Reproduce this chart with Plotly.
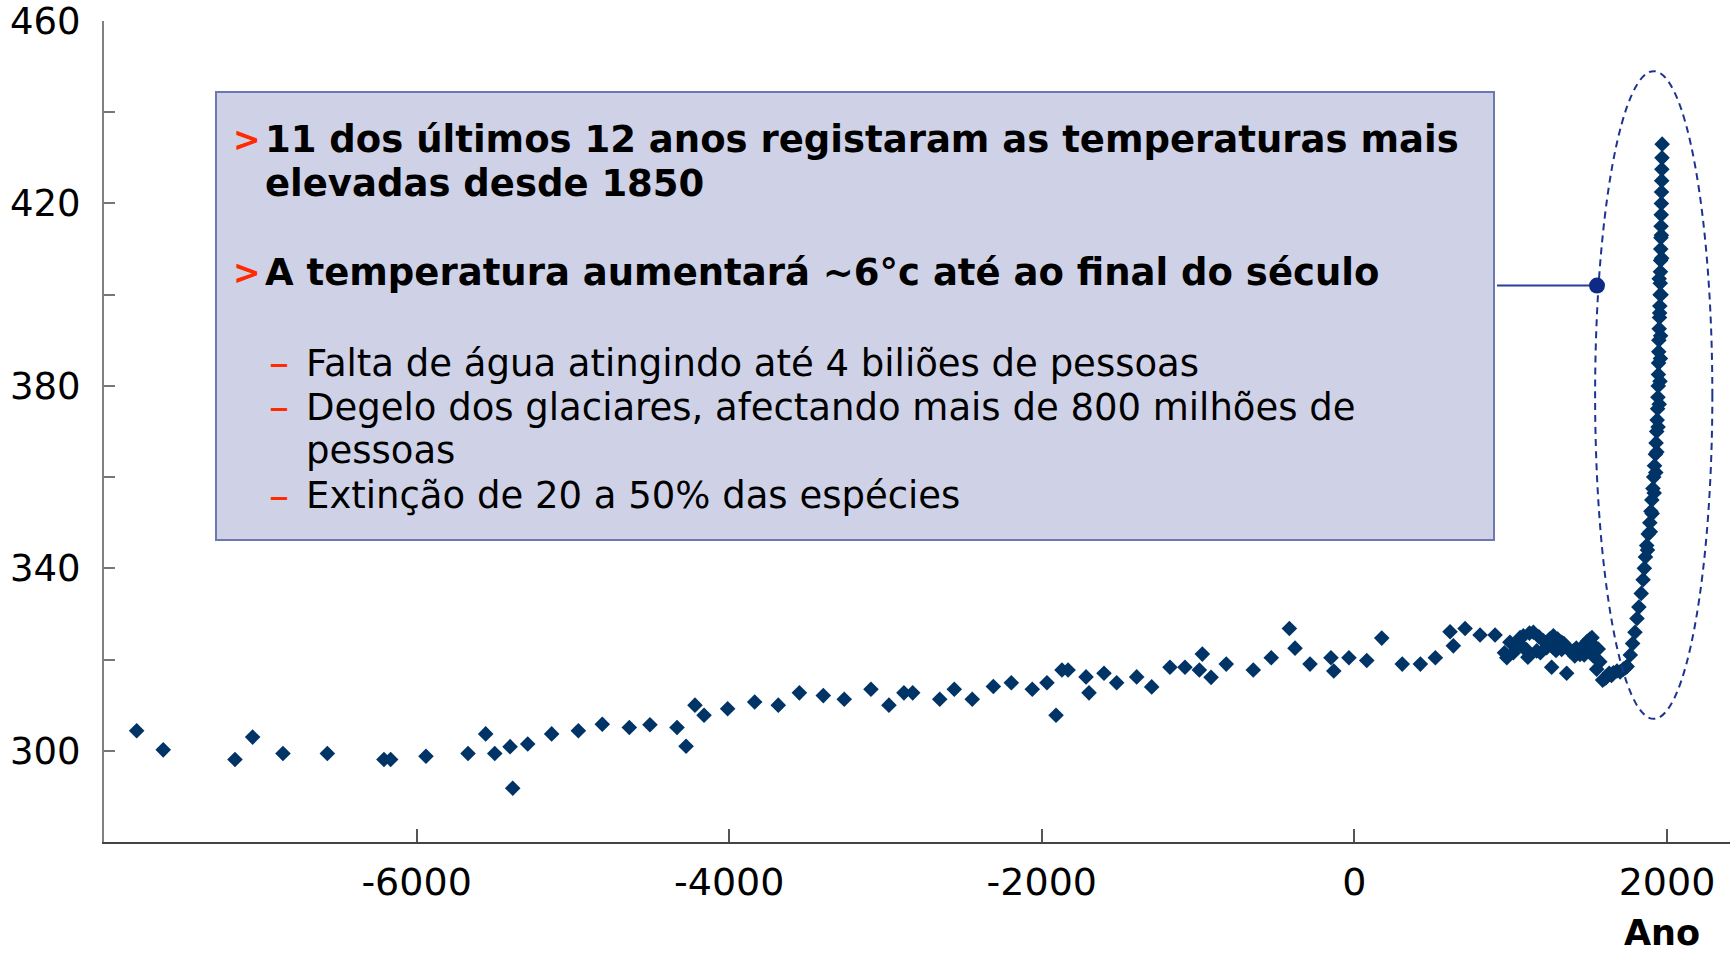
import plotly.graph_objects as go

# ice-core record, scattered samples before ~950 AD
early_year = [-7791, -7621, -7162, -7049, -6855, -6571, -6209, -6166, -5940, -5671,
              -5558, -5500, -5402, -5385, -5289, -5136, -4965, -4812, -4639, -4507,
              -4334, -4276, -4219, -4161, -4010, -3837, -3686, -3551, -3398, -3264,
              -3093, -2978, -2882, -2826, -2653, -2560, -2445, -2310, -2195, -2061,
              -1967, -1909, -1871, -1832, -1717, -1698, -1602, -1521, -1393, -1297,
              -1180, -1084, -992, -973, -917, -820, -647, -532, -416, -380,
              -284, -150, -132, -35, 79, 175, 306, 422, 518, 612,
              633, 708, 804, 900]
early_val = [304.4, 300.2, 298.1, 303.0, 299.4, 299.4, 298.1, 298.1, 298.8, 299.4,
             303.7, 299.4, 300.9, 291.8, 301.5, 303.7, 304.4, 305.8, 305.1, 305.7,
             305.1, 301.0, 310.0, 307.8, 309.2, 310.7, 310.0, 312.7, 312.1, 311.3,
             313.5, 310.0, 312.7, 312.7, 311.3, 313.5, 311.3, 314.1, 314.9, 313.5,
             314.9, 307.8, 317.7, 317.7, 316.2, 312.7, 317.0, 314.9, 316.2, 314.0,
             318.3, 318.3, 317.7, 321.2, 316.1, 319.0, 317.7, 320.4, 326.8, 322.5,
             319.0, 320.4, 317.5, 320.4, 319.8, 324.7, 319.0, 319.0, 320.4, 326.1,
             323.0, 326.8, 325.4, 325.4]

# dense samples 960 - 1735
band_year = [960, 975, 995, 1017, 1040, 1060, 1081, 1081, 1100, 1110,
             1120, 1145, 1166, 1180, 1190, 1209, 1230, 1250, 1262, 1273,
             1273, 1290, 1300, 1326, 1326, 1340, 1350, 1358, 1379, 1401,
             1410, 1420, 1443, 1465, 1470, 1486, 1490, 1507, 1520, 1528,
             1540, 1550, 1560, 1570, 1588, 1600, 1610, 1630, 1645, 1657,
             1680, 1700, 1721, 1735]
band_val = [321.5, 320.4, 323.8, 321.5, 323.5, 324.8, 325.2, 322.6, 322.2, 320.5,
            325.8, 326.0, 321.9, 325.0, 321.5, 324.1, 322.6, 324.5, 318.3, 325.2,
            322.6, 322.0, 324.5, 323.8, 322.2, 323.5, 323.0, 317.0, 321.9, 321.9,
            320.8, 322.5, 321.1, 323.0, 321.0, 322.2, 324.0, 324.5, 324.8, 320.8,
            322.8, 317.9, 322.3, 319.5, 315.5, 315.8, 316.0, 317.0, 316.5, 317.1,
            317.5, 317.3, 317.9, 318.2]

# industrial-era rise
rise_year = [1745, 1765, 1780, 1795, 1808, 1820, 1835, 1847, 1855, 1862,
             1870, 1880, 1890, 1897, 1903, 1910, 1915, 1920, 1926, 1930,
             1934, 1937, 1940, 1942, 1944, 1945, 1946, 1947, 1948, 1950,
             1952, 1954, 1956, 1957, 1958, 1959, 1960, 1961, 1962, 1963,
             1964, 1965, 1966, 1967, 1968, 1969]
rise_val = [318.5, 321.0, 323.5, 326.0, 329.0, 331.5, 334.5, 337.5, 340.0, 342.5,
            345.0, 347.5, 350.0, 352.5, 355.0, 357.5, 360.0, 362.5, 365.0, 367.5,
            370.0, 372.5, 375.0, 377.5, 380.0, 382.5, 385.0, 387.5, 390.0, 392.5,
            395.0, 397.5, 400.0, 402.5, 405.0, 407.5, 410.0, 412.5, 415.0, 417.5,
            420.0, 422.5, 425.0, 427.5, 430.0, 433.0]
# second column of the rise (samples sitting slightly off the main run)
rise2_year = [1875, 1893, 1905, 1918, 1928, 1935, 1943, 1950, 1955, 1958,
              1959, 1953, 1962, 1950, 1966, 1964]
rise2_val = [344.0, 348.0, 352.0, 356.5, 361.0, 365.5, 371.0, 376.0, 381.0, 386.0,
             391.0, 396.0, 400.0, 403.5, 408.0, 413.0]

x_ticks = [-6000, -4000, -2000, 0, 2000]
x_tick_text = ["-6000", "-4000", "-2000", "0", "2000"]

bullets = [
    "11 dos últimos 12 anos registaram as temperaturas mais",
    "elevadas desde 1850",
    "A temperatura aumentará ~6°c até ao final do século",
]
sub_bullets = [
    "Falta de água atingindo até 4 biliões de pessoas",
    "Degelo dos glaciares, afectando mais de 800 milhões de",
    "pessoas",
    "Extinção de 20 a 50% das espécies",
]

_NAVY = "#003466"
_RED = "#ff2a00"
_FONT = "DejaVu Sans"

W, H = 1730, 954
L, R, T, B = 104, 0, 21, 112


def px(x):
    return (x - L) / (W - L - R)


def py(y):
    return (H - B - y) / (H - T - B)


fig = go.Figure(go.Scatter(
    x=early_year + band_year + rise_year + rise2_year,
    y=early_val + band_val + rise_val + rise2_val,
    mode="markers",
    marker=dict(symbol="diamond", size=12, color=_NAVY, line=dict(width=0)),
    hoverinfo="skip",
))

# callout box
fig.add_shape(type="rect", xref="paper", yref="paper",
              x0=px(216), x1=px(1494), y0=py(540), y1=py(92),
              fillcolor="#cfd2e6", line=dict(color="#6b78b4", width=2), layer="below")

# dashed ellipse around the recent rise + connector
fig.add_shape(type="circle", xref="x", yref="y", x0=1540, x1=2290, y0=307, y1=449,
              line=dict(color="#1c3490", width=2, dash="7px,5px"))
fig.add_shape(type="line", xref="paper", yref="y", x0=px(1497), x1=px(1597), y0=402, y1=402,
              line=dict(color="#2a3f9c", width=2))
fig.add_shape(type="circle", xref="paper", yref="y", xsizemode="pixel", ysizemode="pixel",
              xanchor=px(1597), yanchor=402, x0=-8, x1=8, y0=-8, y1=8,
              fillcolor="#0d2a85", line=dict(width=0))

ann = []
for text, ypix, bullet in [(bullets[0], 139, True), (bullets[1], 183, False), (bullets[2], 272, True)]:
    if bullet:
        ann.append(dict(x=px(232), y=py(ypix), text="<b>></b>", font=dict(color=_RED, size=33)))
    ann.append(dict(x=px(264), y=py(ypix), text=f"<b>{text}</b>", font=dict(color="black", size=37)))
for text, ypix, dash in [(sub_bullets[0], 363, True), (sub_bullets[1], 407, True),
                         (sub_bullets[2], 451, False), (sub_bullets[3], 496, True)]:
    if dash:
        ann.append(dict(x=px(268), y=py(ypix), text="–", font=dict(color=_RED, size=40)))
    ann.append(dict(x=px(305), y=py(ypix), text=text, font=dict(color="black", size=37)))
for a in ann:
    a.update(xref="paper", yref="paper", xanchor="left", yanchor="middle", showarrow=False,
             borderpad=0)
fig.update_layout(annotations=ann)

fig.add_annotation(x=px(1662), y=py(954), xref="paper", yref="paper", text="<b>Ano</b>",
                   showarrow=False, xanchor="center", yanchor="bottom", borderpad=0,
                   font=dict(color="black", size=35))

fig.update_layout(
    width=W, height=H,
    margin=dict(l=L, r=R, t=T, b=B, pad=0),
    paper_bgcolor="white", plot_bgcolor="white",
    font=dict(family=_FONT, color="black", size=37),
    showlegend=False,
    xaxis=dict(range=[-8000, 2403], tickvals=x_ticks, ticktext=x_tick_text,
               ticks="inside", ticklen=13, tickcolor="#555555", tickwidth=1.5,
               showline=True, linecolor="#444444", linewidth=2, showgrid=False,
               zeroline=False, tickfont=dict(size=38), ticklabelstandoff=5,
               ticklabeloverflow="allow"),
    yaxis=dict(range=[280, 460], tick0=300, dtick=40,
               ticks="inside", ticklen=11, tickcolor="#777777", tickwidth=1.5,
               minor=dict(dtick=20, tick0=280, ticks="inside", ticklen=11,
                          tickcolor="#777777", tickwidth=1.5),
               showline=True, linecolor="#808080", linewidth=2, showgrid=False,
               zeroline=False, tickfont=dict(size=37), ticklabelstandoff=14,
               ticklabeloverflow="allow"),
)

# page body margin would shift the fixed-size figure
fig.write_html("out.html", config={"displayModeBar": False},
               post_script="document.body.style.margin='0';")
